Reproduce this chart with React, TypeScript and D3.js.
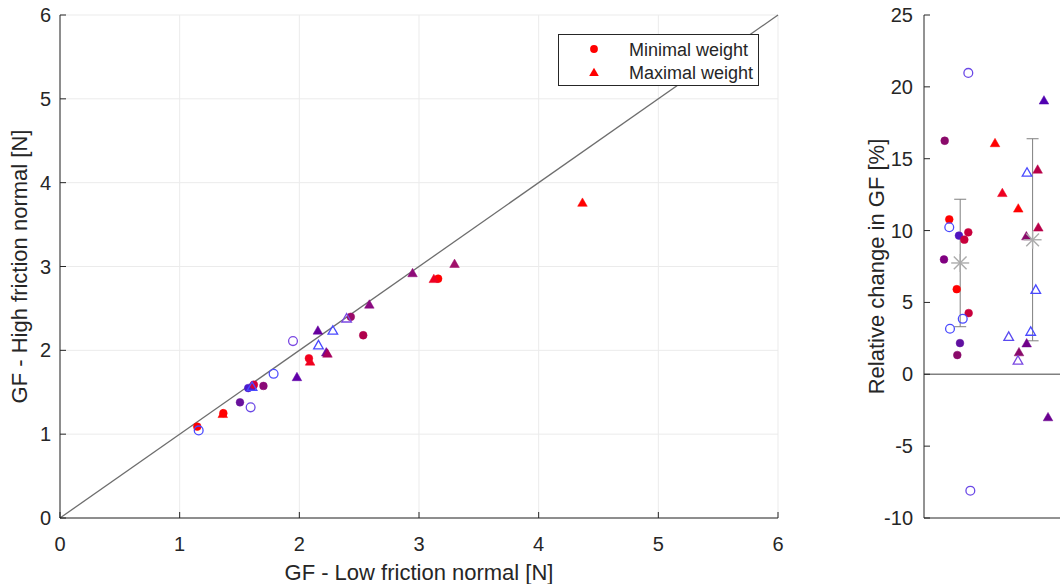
import React from "react";
import * as d3 from "d3";

// ---------- data ----------
const ticks06 = [0, 1, 2, 3, 4, 5, 6];
const rightTicks = [25, 20, 15, 10, 5, 0, -5, -10];

// Left plot – minimal weight (circles)
const minLow = [1.147, 1.159, 1.365, 1.504, 1.593, 1.573, 1.61, 1.62, 1.70, 1.785, 1.947, 2.08, 2.43, 2.534, 3.16];
const minHigh = [1.09, 1.045, 1.25, 1.38, 1.32, 1.55, 1.57, 1.59, 1.575, 1.72, 2.11, 1.905, 2.40, 2.18, 2.855];
const minColor = ["#ff0000", "#4a4aff", "#ff0000", "#68129c", "#6a48e6", "#4a1ad0", "#4a1ad0", "#d4003c", "#8a0a78", "#5050ff", "#7a48e2", "#f2001c", "#9a0a68", "#b0004c", "#ff0000"];
const minOpen = [false, true, false, false, true, false, false, false, false, true, true, false, false, false, false];

// Left plot – maximal weight (triangles)
const maxLow = [1.36, 1.98, 2.09, 2.16, 2.225, 2.235, 2.155, 2.28, 2.395, 2.585, 2.946, 3.124, 3.297, 4.366, 1.605];
const maxHigh = [1.24, 1.68, 1.865, 2.06, 1.975, 1.96, 2.235, 2.235, 2.38, 2.545, 2.92, 2.85, 3.03, 3.76, 1.565];
const maxColor = ["#ff0000", "#6000a8", "#f0001e", "#4a4aff", "#6a0a9a", "#a8005c", "#66009e", "#4a4aff", "#7a48e2", "#8a0a80", "#8e0a78", "#ee0022", "#a0106a", "#ff0000", "#4a4aff"];
const maxOpen = [false, false, false, true, false, false, false, true, true, false, false, false, false, false, true];

// Right plot – relative change (circles, group 1)
const relMinX = [1.112, 0.786, 0.849, 0.849, 0.983, 1.057, 1.112, 0.776, 0.952, 1.117, 1.035, 0.859, 0.997, 0.960, 1.140];
const relMinY = [20.97, 16.25, 10.78, 10.23, 9.65, 9.37, 9.88, 7.99, 5.92, 4.26, 3.86, 3.17, 2.17, 1.34, -8.1];
const relMinColor = ["#6a48e6", "#8a0a6a", "#ff0000", "#4a4aff", "#5014c0", "#c8003c", "#c8003c", "#800080", "#ff0000", "#c8003c", "#4a4aff", "#4a4aff", "#6010a0", "#8a0a6a", "#6a48e6"];
const relMinOpen = [true, false, false, true, false, false, false, false, false, false, true, true, false, false, true];

// Right plot – relative change (triangles, group 2)
const relMaxX = [1.481, 1.582, 1.802, 1.923, 2.070, 2.079, 1.914, 2.157, 2.044, 1.670, 1.812, 1.798, 1.918, 1.974, 2.213];
const relMaxY = [16.08, 12.61, 11.53, 14.03, 14.24, 10.21, 9.6, 19.05, 5.88, 2.61, 1.53, 0.95, 2.15, 2.96, -2.99];
const relMaxColor = ["#ff0000", "#ee0020", "#ff0000", "#4a4aff", "#b80048", "#b80048", "#8a0a6a", "#5000b0", "#4a4aff", "#5a4af0", "#8a0a6a", "#7a48e2", "#70008a", "#4a4aff", "#6a0090"];
const relMaxOpen = [false, false, false, true, false, false, false, false, true, true, false, true, false, true, false];

// Summary (mean ± SD)
const groupX = [1, 2];
const groupMean = [7.745, 9.36];
const groupSD = [4.435, 7.03];

// ---------- layout ----------
const W = 1060, H = 584;
const FONT = "'Liberation Sans', Arial, Helvetica, sans-serif";
const AX = "#262626";
const TICK_FS = 20;
const LABEL_FS = 22;

const xL = d3.scaleLinear().domain([0, 6]).range([60, 778]);
const yL = d3.scaleLinear().domain([0, 6]).range([518, 15]);
const xR = d3.scaleLinear().domain([0.5, 2.5]).range([924, 1068.8]);
const yR = d3.scaleLinear().domain([-10, 25]).range([518, 15]);

function tri(cx: number, cy: number, w = 9.6, h = 8.4) {
  return `M${cx},${cy - h * 0.58}L${cx + w / 2},${cy + h * 0.42}L${cx - w / 2},${cy + h * 0.42}Z`;
}

function Circle({ x, y, color, open }: { x: number; y: number; color: string; open: boolean }) {
  return open ? (
    <circle cx={x} cy={y} r={4.4} fill="none" stroke={color} strokeWidth={1.3} />
  ) : (
    <circle cx={x} cy={y} r={3.9} fill={color} stroke={color} strokeWidth={0.5} />
  );
}
function Tri({ x, y, color, open }: { x: number; y: number; color: string; open: boolean }) {
  return open ? (
    <path d={tri(x, y)} fill="none" stroke={color} strokeWidth={1.3} strokeLinejoin="miter" />
  ) : (
    <path d={tri(x, y)} fill={color} stroke={color} strokeWidth={0.5} />
  );
}

function Asterisk({ x, y, s = 9, color = "#ababab" }: { x: number; y: number; s?: number; color?: string }) {
  const d = s * 0.7071;
  return (
    <g stroke={color} strokeWidth={1.4}>
      <line x1={x - s} y1={y} x2={x + s} y2={y} />
      <line x1={x} y1={y - s} x2={x} y2={y + s} />
      <line x1={x - d} y1={y - d} x2={x + d} y2={y + d} />
      <line x1={x - d} y1={y + d} x2={x + d} y2={y - d} />
    </g>
  );
}

export default function App() {
  const [x0, x1] = xL.range();
  const [y0, y1] = yL.range();
  return (
    <div style={{ position: "absolute", left: 0, top: 0 }}>
      <svg width={W} height={H} style={{ display: "block", background: "#fff" }} fontFamily={FONT}>
        {/* ---------- Left plot ---------- */}
        {ticks06.map((t) => (
          <g key={"g" + t}>
            <line x1={xL(t)} x2={xL(t)} y1={y0} y2={y1} stroke="#ebebeb" strokeWidth={1} />
            <line x1={x0} x2={x1} y1={yL(t)} y2={yL(t)} stroke="#ebebeb" strokeWidth={1} />
          </g>
        ))}
        {/* identity line */}
        <line x1={xL(0)} y1={yL(0)} x2={xL(6)} y2={yL(6)} stroke="#6e6e6e" strokeWidth={1.3} />
        {/* axes */}
        <line x1={x0} x2={x1} y1={y0} y2={y0} stroke={AX} strokeWidth={1} />
        <line x1={x0} x2={x0} y1={y0} y2={y1} stroke={AX} strokeWidth={1} />
        {ticks06.map((t) => (
          <g key={"t" + t}>
            <line x1={xL(t)} x2={xL(t)} y1={y0} y2={y0 - 6} stroke={AX} />
            <line x1={x0} x2={x0 + 6} y1={yL(t)} y2={yL(t)} stroke={AX} />
            <text x={xL(t)} y={y0 + 33} textAnchor="middle" fontSize={TICK_FS} fill={AX}>{t}</text>
            <text x={x0 - 9} y={yL(t) + 7} textAnchor="end" fontSize={TICK_FS} fill={AX}>{t}</text>
          </g>
        ))}
        <text x={(x0 + x1) / 2} y={580} textAnchor="middle" fontSize={LABEL_FS} fill={AX}>GF - Low friction normal [N]</text>
        <text transform={`translate(27,${(y0 + y1) / 2}) rotate(-90)`} textAnchor="middle" fontSize={LABEL_FS} fill={AX}>GF - High friction normal [N]</text>

        {/* points */}
        {minLow.map((v, i) => (
          <Circle key={"mc" + i} x={xL(v)} y={yL(minHigh[i])} color={minColor[i]} open={minOpen[i]} />
        ))}
        {maxLow.map((v, i) => (
          <Tri key={"mt" + i} x={xL(v)} y={yL(maxHigh[i])} color={maxColor[i]} open={maxOpen[i]} />
        ))}

        {/* legend */}
        <rect x={558.5} y={34.5} width={200} height={51} fill="#fff" stroke={AX} strokeWidth={1} />
        <circle cx={594} cy={49} r={3.9} fill="#ff0000" />
        <path d={tri(594, 72.5)} fill="#ff0000" />
        <text x={629} y={55.5} fontSize={18} fill={AX}>Minimal weight</text>
        <text x={629} y={79} fontSize={18} fill={AX}>Maximal weight</text>

        {/* ---------- Right plot ---------- */}
        <line x1={924} x2={W} y1={yR(0)} y2={yR(0)} stroke="#808080" strokeWidth={1.6} />
        <line x1={924} x2={W} y1={518} y2={518} stroke={AX} strokeWidth={1} />
        <line x1={924} x2={924} y1={518} y2={15} stroke={AX} strokeWidth={1} />
        {rightTicks.map((t) => (
          <g key={"rt" + t}>
            <line x1={924} x2={930} y1={yR(t)} y2={yR(t)} stroke={AX} />
            <text x={913} y={yR(t) + 7} textAnchor="end" fontSize={TICK_FS} fill={AX}>{t}</text>
          </g>
        ))}
        <text transform={`translate(884,${(518 + 15) / 2}) rotate(-90)`} textAnchor="middle" fontSize={LABEL_FS} fill={AX}>Relative change in GF [%]</text>

        {/* error bars */}
        {groupX.map((g, i) => {
          const cx = xR(g);
          const top = yR(groupMean[i] + groupSD[i]);
          const bot = yR(groupMean[i] - groupSD[i]);
          return (
            <g key={"eb" + i} stroke="#7f7f7f" strokeWidth={1}>
              <line x1={cx} x2={cx} y1={top} y2={bot} />
              <line x1={cx - 6} x2={cx + 6} y1={top} y2={top} />
              <line x1={cx - 6} x2={cx + 6} y1={bot} y2={bot} />
            </g>
          );
        })}
        {relMinX.map((v, i) => (
          <Circle key={"rc" + i} x={xR(v)} y={yR(relMinY[i])} color={relMinColor[i]} open={relMinOpen[i]} />
        ))}
        {relMaxX.map((v, i) => (
          <Tri key={"rtr" + i} x={xR(v)} y={yR(relMaxY[i])} color={relMaxColor[i]} open={relMaxOpen[i]} />
        ))}
        {groupX.map((g, i) => (
          <Asterisk key={"as" + i} x={xR(g)} y={yR(groupMean[i])} />
        ))}
      </svg>
    </div>
  );
}
